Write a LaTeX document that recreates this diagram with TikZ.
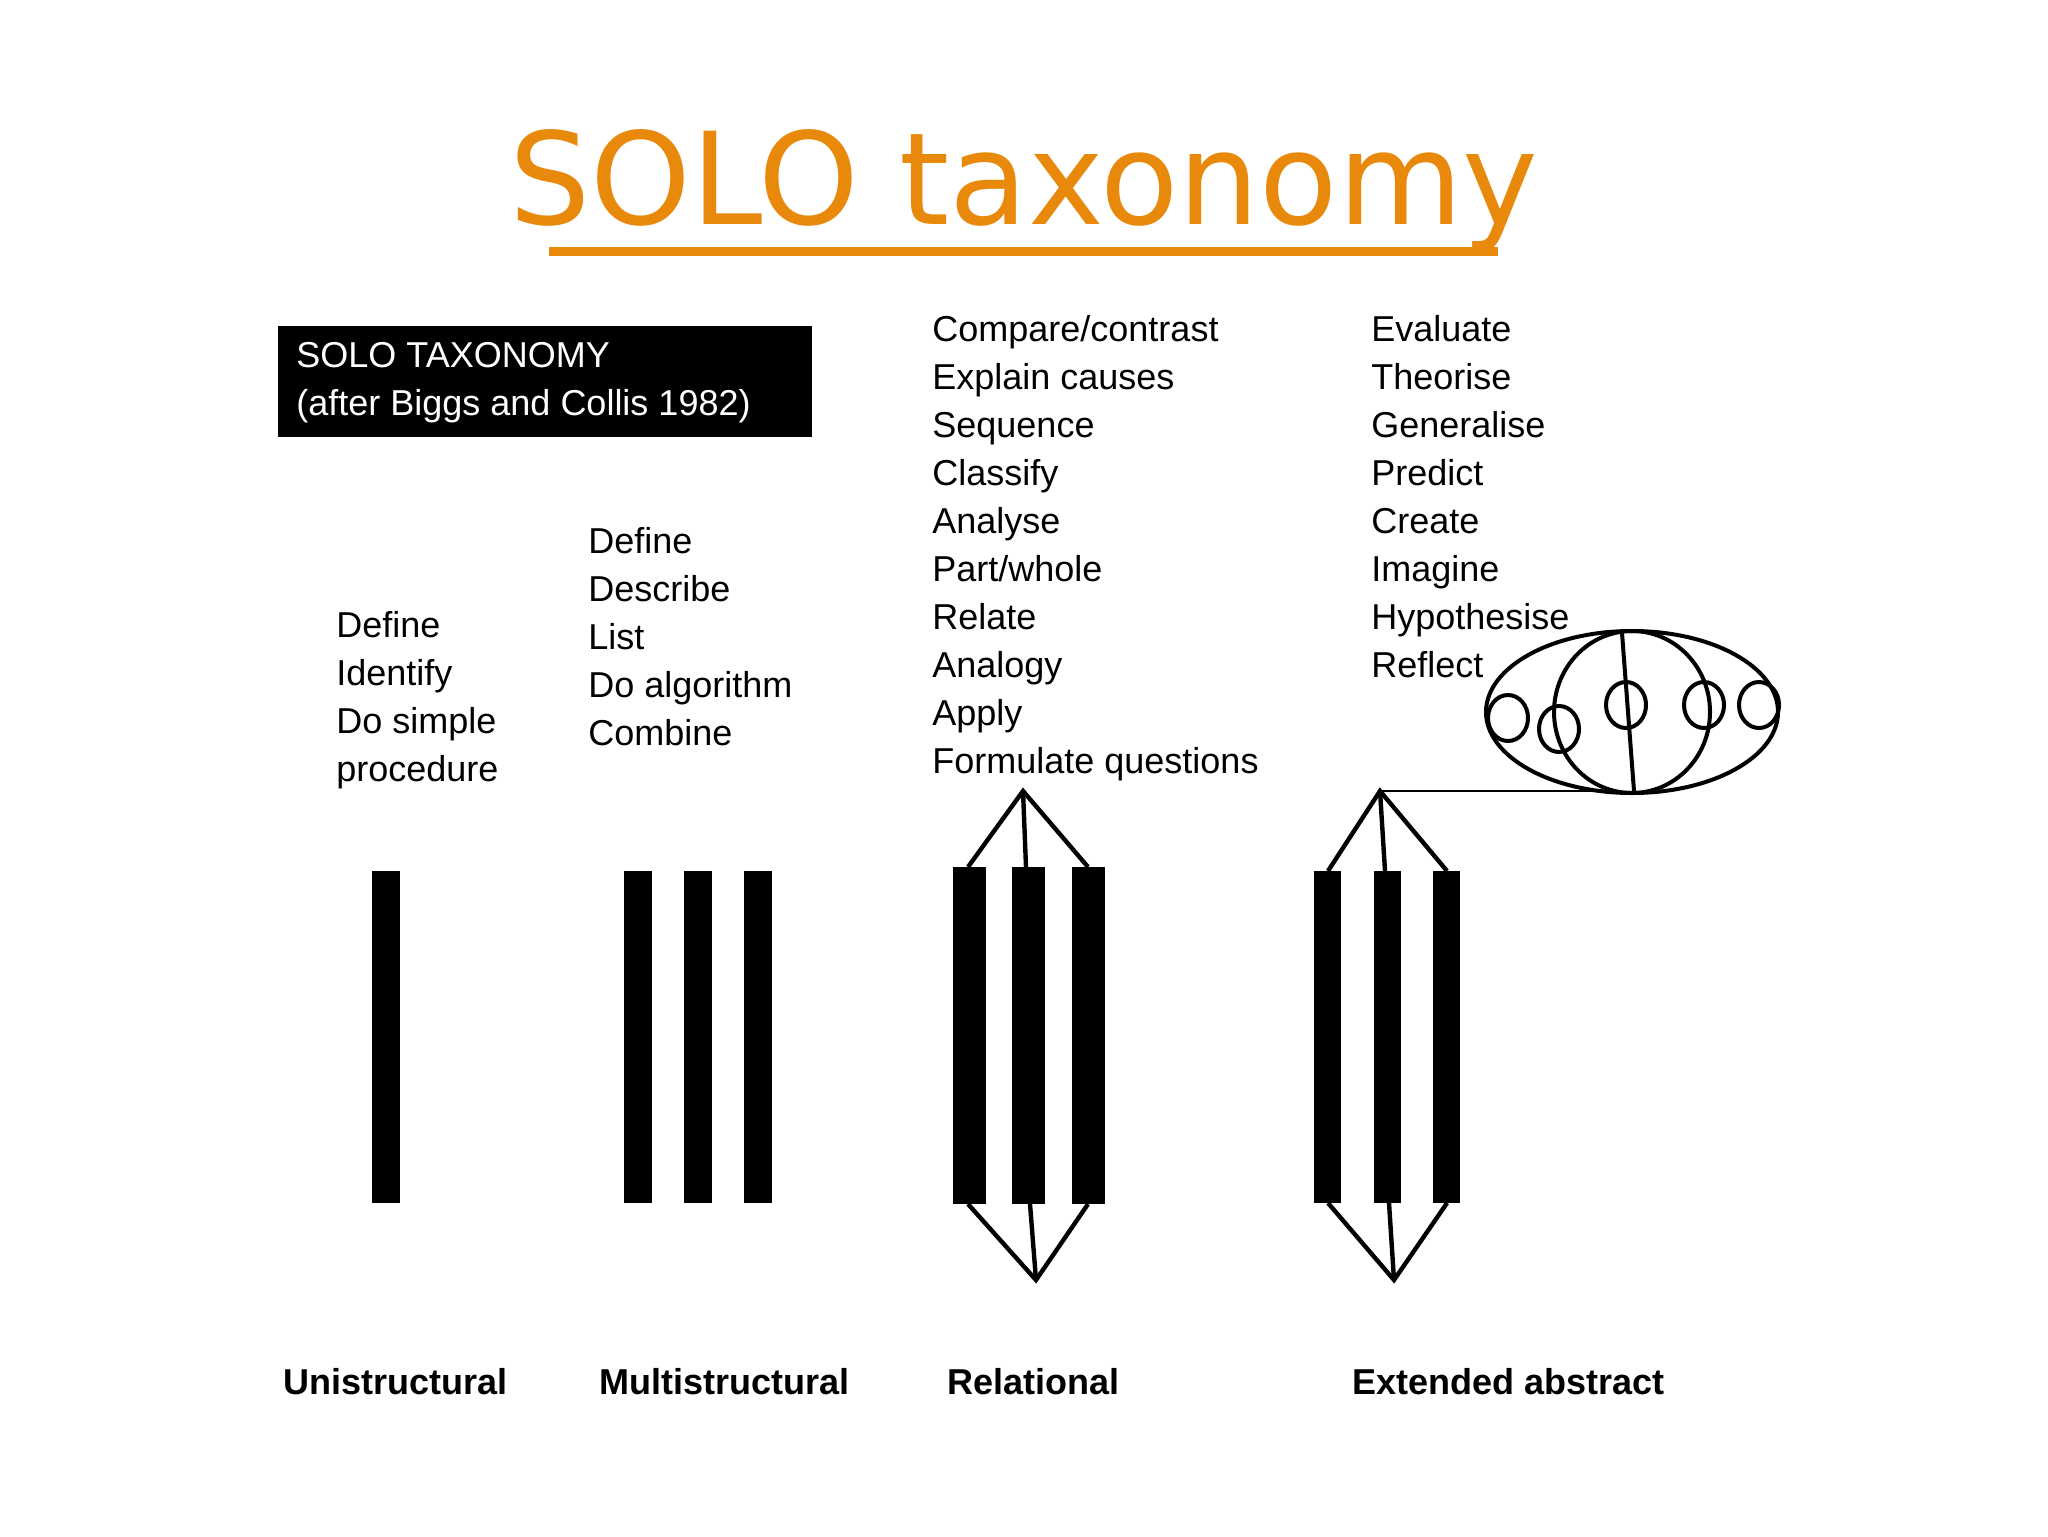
\documentclass[tikz,border=0pt]{standalone}
\usepackage{fontspec}
\setmainfont{Liberation Sans}
\newfontfamily\titlefont{DejaVu Sans}
\definecolor{solo}{HTML}{E8890C}
\begin{document}
\begin{tikzpicture}[x=0.5pt,y=-0.5pt,
  lst/.style={anchor=north west,inner sep=0pt,align=left,font=\fontsize{18}{24}\selectfont},
  lvl/.style={anchor=west,inner sep=0pt,font=\fontsize{18}{22}\bfseries\selectfont},
  bar/.style={fill=black},
  ln/.style={line width=2.2pt},
  oval/.style={line width=2pt}]
\useasboundingbox (0,0) rectangle (2048,1536);
\node[text=solo,font=\titlefont\fontsize{64}{70}\selectfont,inner sep=0pt] (title) at (1024,190) {SOLO taxonomy};
\draw[solo,line width=4.5pt] (549,251) -- (1498,251);
\node[fill=black,text=white,anchor=north west,minimum width=534*0.5pt,minimum height=111*0.5pt,inner sep=0pt] (box) at (278,326) {};
\node[anchor=west,text=white,align=left,inner sep=0pt,font=\fontsize{18}{24}\selectfont] (boxt) at (296,383) {SOLO TAXONOMY\\(after Biggs and Collis 1982)};
\node[lst] (l1) at (336,611) {Define\\Identify\\Do simple\\procedure};
\node[lst] (l2) at (588,527) {Define\\Describe\\List\\Do algorithm\\Combine};
\node[lst] (l3) at (932,315) {Compare/contrast\\Explain causes\\Sequence\\Classify\\Analyse\\Part/whole\\Relate\\Analogy\\Apply\\Formulate questions};
\node[lst] (l4) at (1371,315) {Evaluate\\Theorise\\Generalise\\Predict\\Create\\Imagine\\Hypothesise\\Reflect};
% unistructural
\fill[bar] (372,871) rectangle (400,1203);
% multistructural
\fill[bar] (624,871) rectangle (652,1203);
\fill[bar] (684,871) rectangle (712,1203);
\fill[bar] (744,871) rectangle (772,1203);
% relational
\fill[bar] (953,867) rectangle (986,1204);
\fill[bar] (1012,867) rectangle (1045,1204);
\fill[bar] (1072,867) rectangle (1105,1204);
\coordinate (rt) at (1023,791);
\coordinate (rb) at (1036,1280);
\draw[ln] (968,867) -- (rt) -- (1088,867);
\draw[ln] (rt) -- (1026,867);
\draw[ln] (968,1204) -- (rb) -- (1088,1204);
\draw[ln] (rb) -- (1030,1204);
% extended abstract
\fill[bar] (1314,871) rectangle (1341,1203);
\fill[bar] (1374,871) rectangle (1401,1203);
\fill[bar] (1433,871) rectangle (1460,1203);
\coordinate (et) at (1380,791);
\coordinate (eb) at (1394,1280);
\draw[ln] (1328,871) -- (et) -- (1447,871);
\draw[ln] (et) -- (1385,871);
\draw[ln] (1328,1203) -- (eb) -- (1447,1203);
\draw[ln] (eb) -- (1389,1203);
\coordinate (ov) at (1632,712);
\draw[line width=1pt] (et) -- (1600,791);
\draw[oval] (ov) ellipse [x radius=146, y radius=81];
\draw[oval] (ov) ellipse [x radius=78, y radius=81];
\draw[oval] (1622,633) -- (1634,791);
\foreach \p in {(1508,718),(1559,729),(1626,705),(1704,705),(1759,705)}
  \draw[oval] \p ellipse [x radius=20, y radius=23];
\node[lvl] (u) at (283,1382) {Unistructural};
\node[lvl] (m) at (599,1382) {Multistructural};
\node[lvl] (r) at (947,1382) {Relational};
\node[lvl] (e) at (1352,1382) {Extended abstract};
\end{tikzpicture}
\end{document}
